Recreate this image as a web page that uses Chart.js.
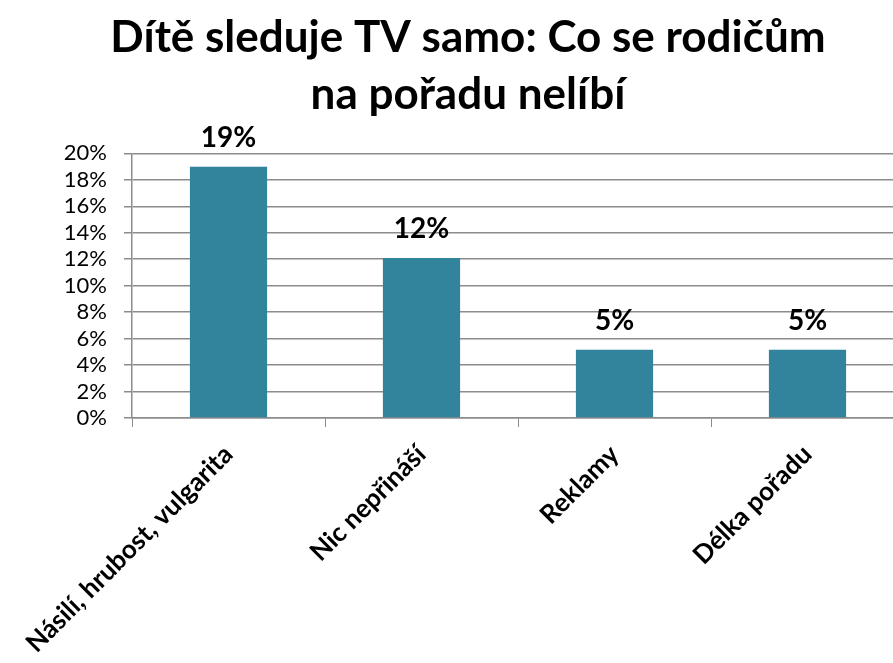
<!DOCTYPE html>
<html>
<head>
<meta charset="utf-8">
<script src="https://cdn.jsdelivr.net/npm/chart.js@4.4.1/dist/chart.umd.min.js"></script>
<style>
  html, body { margin: 0; padding: 0; background: #fff; overflow: hidden; }
  #wrap { width: 936px; height: 663px; }
</style>
</head>
<body>
<div id="wrap"><canvas id="chart"></canvas></div>
<script>
const titleLines = ["Dítě sleduje TV samo: Co se rodičům", "na pořadu nelíbí"];
const categories = ["Násilí, hrubost, vulgarita", "Nic nepřináší", "Reklamy", "Délka pořadu"];
const values = [19, 12.1, 5.15, 5.15];
const yTicks = [0, 2, 4, 6, 8, 10, 12, 14, 16, 18, 20];

const FONT = "Lato, 'Open Sans', sans-serif";

// draws the % above each bar, like Excel data labels
const barLabels = {
  id: "barLabels",
  afterDatasetsDraw(chart) {
    const ctx = chart.ctx;
    const meta = chart.getDatasetMeta(0);
    ctx.save();
    ctx.font = "bold 28px " + FONT;
    ctx.fillStyle = "#000";
    ctx.textAlign = "center";
    ctx.textBaseline = "alphabetic";
    meta.data.forEach((bar, i) => {
      ctx.fillText(Math.round(values[i]) + "%", bar.x, bar.y - 20);
    });
    ctx.restore();
  }
};

new Chart(document.getElementById("chart"), {
  type: "bar",
  data: {
    labels: categories,
    datasets: [{
      data: values,
      backgroundColor: "#31849B",
      barPercentage: 0.4,
      categoryPercentage: 1
    }]
  },
  options: {
    responsive: true,
    maintainAspectRatio: false,
    animation: false,
    layout: { padding: { left: 32, right: 32, top: 0, bottom: 0 } },
    plugins: {
      legend: { display: false },
      tooltip: { enabled: false },
      title: {
        display: true,
        text: titleLines,
        color: "#000",
        font: { family: FONT, size: 44, weight: "bold", lineHeight: 1.3 },
        padding: { top: 9, bottom: 30 }
      }
    },
    scales: {
      x: {
        grid: { drawOnChartArea: false, color: "#8c8c8c", tickLength: 9 },
        border: { color: "#8c8c8c", width: 1.5 },
        ticks: {
          color: "#000",
          font: { family: FONT, size: 26, weight: "bold" },
          minRotation: 45,
          maxRotation: 45,
          autoSkip: false,
          padding: 12
        },
        afterFit(scale) { scale.height = 245; }
      },
      y: {
        min: 0,
        max: 20,
        afterBuildTicks(scale) { scale.ticks = yTicks.map(v => ({ value: v })); },
        grid: { color: "#8c8c8c", lineWidth: 1.5, tickLength: 8 },
        border: { color: "#8c8c8c", width: 1.5 },
        ticks: {
          color: "#000",
          font: { family: FONT, size: 22 },
          padding: 17,
          autoSkip: false,
          callback: v => v + "%"
        },
        afterFit(scale) { scale.width = 100; }
      }
    }
  },
  plugins: [barLabels]
});
</script>
</body>
</html>
